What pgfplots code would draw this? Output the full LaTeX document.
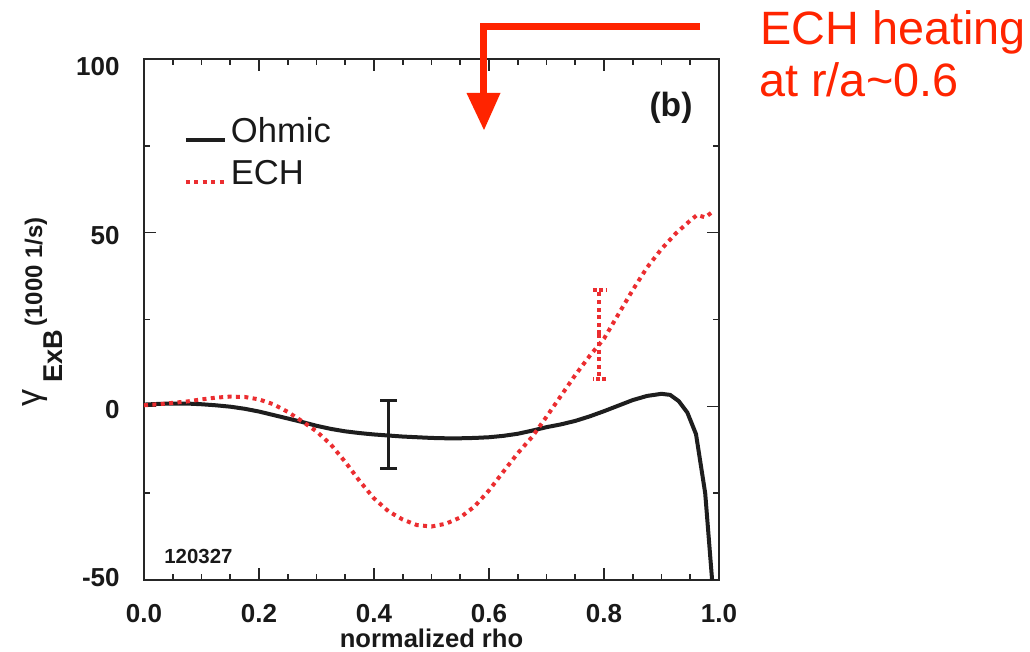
\documentclass[border=0pt]{standalone}
\usepackage{fontspec}
\setmainfont{Liberation Sans}
\usepackage{pgfplots}
\usepackage{pgfplotstable}
\pgfplotsset{compat=1.18}

\definecolor{ohmicblack}{RGB}{30,30,30}
\definecolor{echred}{RGB}{235,45,48}
\definecolor{heatred}{RGB}{255,36,0}

% gamma_ExB profiles, 1000 1/s
\pgfplotstableread{
x y
0.000 0.5
0.025 0.7
0.050 0.8
0.075 0.8
0.100 0.6
0.125 0.3
0.150 -0.1
0.175 -0.7
0.200 -1.5
0.225 -2.5
0.250 -3.5
0.275 -4.5
0.300 -5.6
0.325 -6.5
0.350 -7.2
0.375 -7.7
0.400 -8.1
0.425 -8.4
0.450 -8.7
0.475 -8.9
0.500 -9.1
0.525 -9.2
0.550 -9.2
0.575 -9.1
0.600 -8.9
0.625 -8.5
0.650 -7.9
0.675 -7.0
0.700 -6.0
0.725 -5.2
0.750 -4.2
0.775 -2.9
0.800 -1.4
0.825 0.2
0.850 1.8
0.875 3.0
0.900 3.6
0.915 3.3
0.930 1.5
0.945 -1.8
0.960 -8.0
0.976 -25.0
0.988 -50.0
}\ohmic

\pgfplotstableread{
x y
0.000 0.3
0.025 0.6
0.050 1.0
0.075 1.4
0.100 2.0
0.125 2.5
0.150 2.8
0.175 2.7
0.200 2.0
0.225 0.6
0.250 -1.6
0.275 -4.3
0.300 -7.2
0.325 -11.0
0.350 -16.0
0.375 -21.5
0.400 -26.5
0.425 -30.2
0.450 -32.6
0.475 -34.2
0.500 -34.6
0.525 -33.8
0.550 -32.0
0.575 -28.8
0.600 -24.2
0.625 -18.8
0.650 -13.5
0.675 -8.8
0.700 -3.0
0.725 3.0
0.750 9.0
0.775 14.5
0.800 19.5
0.825 26.5
0.850 33.5
0.875 40.0
0.900 45.3
0.925 49.8
0.950 53.5
0.962 55.1
0.976 54.4
0.991 56.3
}\ech

\begin{document}
\begin{tikzpicture}
\useasboundingbox (0pt,0pt) rectangle (515pt,-326pt);

\begin{axis}[
  at={(72pt,-290pt)}, anchor=south west,
  scale only axis, width=287.5pt, height=260.5pt,
  xmin=0, xmax=1, ymin=-50, ymax=100,
  xtick={0,0.2,0.4,0.6,0.8,1.0},
  xticklabels={0.0,0.2,0.4,0.6,0.8,1.0},
  minor x tick num=3,
  ytick={-50,0,50,100},
  yticklabels={\raisebox{-3.2pt}[0pt][0pt]{-50},
               \raisebox{-6.1pt}[0pt][0pt]{0},
               \raisebox{-5.9pt}[0pt][0pt]{50},
               \raisebox{-8.4pt}[0pt][0pt]{100}},
  minor y tick num=1,
  tick align=inside,
  major tick length=6pt, minor tick length=3pt,
  axis line style={line width=1pt, black!85},
  every tick/.style={line width=0.8pt, black!85},
  /pgf/number format/assume math mode=true,
  tick label style={font=\bfseries\fontsize{13}{13}\selectfont, text=black!90},
  xticklabel style={anchor=base, yshift=-21pt, inner sep=0pt},
  yticklabel style={anchor=east, xshift=-12pt, inner sep=0pt},
  xlabel={normalized rho},
  xlabel style={at={(axis description cs:0.5,0)}, anchor=base, yshift=-34pt,
    inner sep=0pt, font=\bfseries\fontsize{12.8}{12.8}\selectfont, text=black!90},
  legend style={at={(axis cs:0.0694,73.0)}, anchor=west, draw=none, fill=none,
    inner sep=0pt, outer sep=0pt, row sep=3.5pt,
    font=\fontsize{17.3}{17.3}\selectfont, text=black!90},
  legend cell align=left,
  legend image code/.code={\draw[#1] (0pt,-4pt) -- (19.5pt,-4pt);},
  /tikz/every odd column/.append style={column sep=0pt},
  clip=false,
]
\addplot[ohmicblack, line width=2pt, line join=round] table[x=x, y=y] {\ohmic};
\addlegendentry{Ohmic}
\addplot[echred, line width=2pt, dash pattern=on 2pt off 2.2pt] table[x=x, y=y] {\ech};
\addlegendentry{ECH}

% representative uncertainties
\addplot[ohmicblack, line width=1.5pt, mark=none, forget plot,
  error bars/.cd, y dir=both, y explicit, error mark=|,
  error bar style={line width=1.5pt, ohmicblack},
  error mark options={line width=1.5pt, mark size=4.25pt, ohmicblack}]
  coordinates {(0.426,-8.15) +- (0,9.75)};
\addplot[echred, line width=2pt, mark=none, forget plot,
  error bars/.cd, y dir=both, y explicit, error mark=|,
  error bar style={line width=2pt, echred, dash pattern=on 2pt off 1.8pt},
  error mark options={line width=2pt, mark size=3.3pt, echred, dash pattern=on 2pt off 1.2pt}]
  coordinates {(0.792,20.7) +- (0,12.8)};
\end{axis}

\begin{scope}[x=0.5pt, y=-0.5pt]
  % axis title pieces
  \node[rotate=90, anchor=base west, inner sep=0pt,
        font=\fontsize{17}{17}\selectfont, text=black!90] at (40,407) {γ};
  \node[rotate=90, anchor=base west, inner sep=0pt,
        font=\bfseries\fontsize{13.6}{13.6}\selectfont, text=black!90] at (62,383) {ExB};
  \node[rotate=90, anchor=base west, inner sep=0pt,
        font=\bfseries\fontsize{12}{12}\selectfont, text=black!90] at (42,327) {(1000 1/s)};
  % panel tag and shot number
  \node[anchor=base, inner sep=0pt, font=\bfseries\fontsize{16.8}{16.8}\selectfont,
        text=black!90] at (671,117) {(b)};
  \node[anchor=base west, inner sep=0pt, font=\bfseries\fontsize{10.2}{10.2}\selectfont,
        text=black!90] at (164,564) {120327};
  % heating location
  \draw[heatred, line width=3.5pt, miter limit=10] (700,26.5) -- (483,26.5) -- (483,95);
  \fill[heatred] (466.5,93) -- (500.5,93) -- (484,130) -- cycle;
  \node[anchor=base west, inner sep=0pt, font=\fontsize{23.4}{23.4}\selectfont,
        text=heatred] at (760,45) {ECH heating};
  \node[anchor=base west, inner sep=0pt, font=\fontsize{23.4}{23.4}\selectfont,
        text=heatred] at (759,97) {at r/a\textasciitilde0.6};
\end{scope}
\end{tikzpicture}
\end{document}
